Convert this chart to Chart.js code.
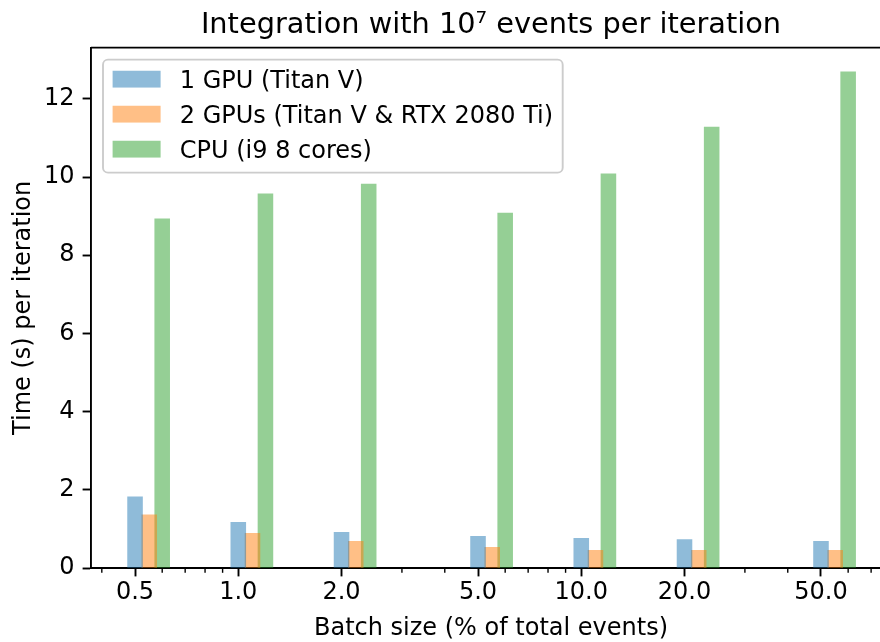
<!DOCTYPE html>
<html>
<head>
<meta charset="utf-8">
<script src="https://cdn.jsdelivr.net/npm/chart.js@4/dist/chart.umd.min.js"></script>
<style>
    html, body { margin: 0; padding: 0; background: #fff; overflow: hidden; }
    #wrap { width: 900px; height: 642px; }
</style>
</head>
<body>
<div id="wrap"><canvas id="timeChartCanvas" width="900" height="642"></canvas></div>
<script>
// Datos
const batchSizes = [0.5, 1, 2, 5, 10, 20, 50];
const batchLabels = ['0.5', '1.0', '2.0', '5.0', '10.0', '20.0', '50.0'];
const gpu1Times = [1.82, 1.17, 0.91, 0.81, 0.76, 0.73, 0.68];
const gpu2Times = [1.36, 0.89, 0.68, 0.53, 0.45, 0.45, 0.45];
const cpuTimes = [8.93, 9.57, 9.82, 9.08, 10.08, 11.28, 12.69];
const seriesNames = ['1 GPU (Titan V)', '2 GPUs (Titan V & RTX 2080 Ti)', 'CPU (i9 8 cores)'];

// desplazamiento de cada serie en escala log (x, 1.1x, 1.2x)
const groupShift = [1, 1.1, 1.2];
const colors = ['rgba(31,119,180,0.5)', 'rgba(255,127,14,0.5)', 'rgba(44,160,44,0.5)'];

const toPoints = (values, shift) => values.map((v, i) => ({ x: batchSizes[i] * shift, y: v }));

// ticks menores del eje log (2..9 por década) que no coinciden con los mayores
const minorTicks = [];
[0.1, 1, 10].forEach(d => {
    for (let k = 2; k <= 9; k++) {
        const v = +(d * k).toFixed(2);
        if (!batchSizes.includes(v)) minorTicks.push(v);
    }
});

Chart.defaults.font.family = "'DejaVu Sans', sans-serif";
Chart.defaults.color = '#000';

const frameAndLegend = {
    id: 'frameAndLegend',
    afterDraw: (chart) => {
        const ctx = chart.ctx;
        const a = chart.chartArea;
        const xs = chart.scales.x;

        // ticks menores
        ctx.save();
        ctx.strokeStyle = '#000';
        ctx.lineWidth = 1.4;
        minorTicks.forEach(v => {
            if (v < xs.min || v > xs.max) return;
            const px = xs.getPixelForValue(v);
            ctx.beginPath();
            ctx.moveTo(px, a.bottom);
            ctx.lineTo(px, a.bottom + 4.8);
            ctx.stroke();
        });

        // marco superior y derecho
        ctx.lineWidth = 1.9;
        ctx.beginPath();
        ctx.moveTo(a.left, a.top);
        ctx.lineTo(a.right, a.top);
        ctx.lineTo(a.right, a.bottom);
        ctx.stroke();

        // leyenda tipo matplotlib
        const lx = a.left + 12, ly = a.top + 12;
        const fs = 24;
        ctx.font = fs + "px 'DejaVu Sans'";
        let maxW = 0;
        chart.data.datasets.forEach(ds => { maxW = Math.max(maxW, ctx.measureText(ds.label).width); });
        const w = 9.6 + 48 + 19.2 + maxW + 9.6;
        const h = 113;
        ctx.beginPath();
        ctx.roundRect(lx, ly, w, h, 5);
        ctx.fillStyle = 'rgba(255,255,255,0.8)';
        ctx.fill();
        ctx.strokeStyle = '#cccccc';
        ctx.lineWidth = 1.9;
        ctx.stroke();

        chart.data.datasets.forEach((ds, i) => {
            const cy = ly + 19.5 + i * 35;
            ctx.fillStyle = ds.backgroundColor;
            ctx.fillRect(lx + 9.6, cy - 8.4, 48, 16.8);
            ctx.fillStyle = '#000';
            ctx.textBaseline = 'alphabetic';
            ctx.fillText(ds.label, lx + 9.6 + 48 + 19.2, cy + 8.7);
        });
        ctx.restore();
    }
};

const renderTimeChart = () => {
    new Chart('timeChartCanvas', {
        type: 'bar',
        data: {
            datasets: [
                { label: seriesNames[0], data: toPoints(gpu1Times, groupShift[0]), backgroundColor: colors[0] },
                { label: seriesNames[1], data: toPoints(gpu2Times, groupShift[1]), backgroundColor: colors[1] },
                { label: seriesNames[2], data: toPoints(cpuTimes, groupShift[2]), backgroundColor: colors[2] }
            ]
        },
        options: {
            responsive: false,
            animation: false,
            devicePixelRatio: 1,
            grouped: false,
            barThickness: 14.9,
            layout: { padding: { left: 0, right: 9, top: 0, bottom: 0 } },
            plugins: {
                legend: { display: false },
                tooltip: { enabled: false },
                title: {
                    display: true,
                    fullSize: false,
                    text: 'Integration with 10\u2077 events per iteration',
                    font: { size: 28.8, weight: 'normal' },
                    padding: { top: 8, bottom: 5.1 }
                }
            },
            scales: {
                x: {
                    type: 'logarithmic',
                    offset: false,
                    min: 0.372,
                    max: 80,
                    afterBuildTicks: (scale) => {
                        scale.ticks = batchSizes.map(v => ({ value: v }));
                    },
                    afterFit: (scale) => { scale.height = 74; },
                    ticks: {
                        autoSkip: false,
                        maxRotation: 0,
                        padding: 2,
                        font: { size: 24 },
                        callback: (value) => batchLabels[batchSizes.indexOf(value)]
                    },
                    grid: { offset: false, drawOnChartArea: false, tickLength: 8.4, tickWidth: 1.9, tickColor: '#000' },
                    border: { display: true, color: '#000', width: 1.9 },
                    title: {
                        display: true,
                        text: 'Batch size (% of total events)',
                        font: { size: 24 },
                        padding: { top: 0, bottom: -1 }
                    }
                },
                y: {
                    min: 0,
                    max: 13.31,
                    afterFit: (scale) => { scale.width = 91; },
                    ticks: {
                        stepSize: 2,
                        includeBounds: false,
                        padding: 8,
                        font: { size: 24 }
                    },
                    grid: { drawOnChartArea: false, tickLength: 8.4, tickWidth: 1.9, tickColor: '#000' },
                    border: { display: true, color: '#000', width: 1.9 },
                    title: {
                        display: true,
                        text: 'Time (s) per iteration',
                        font: { size: 24 },
                        padding: { top: 9, bottom: 0 }
                    }
                }
            }
        },
        plugins: [frameAndLegend]
    });
};

renderTimeChart();
</script>
</body>
</html>
